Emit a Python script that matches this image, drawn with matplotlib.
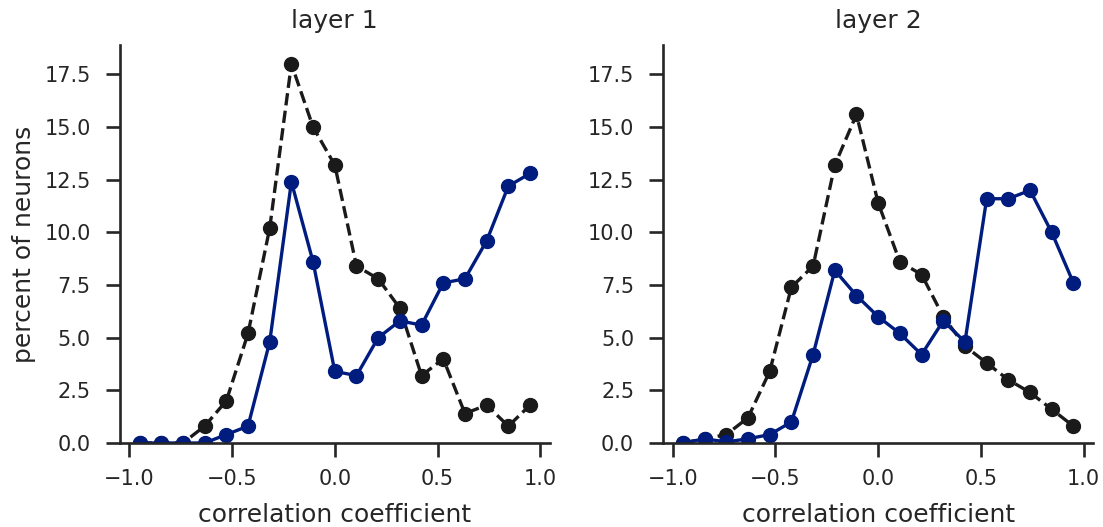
import numpy as np
import matplotlib
matplotlib.use('Agg')
import matplotlib.pyplot as plt
import seaborn as sns

# bin centres of correlation coefficient histogram
bin_centers = np.linspace(-0.95, 0.95, 19)

# layer 1
layer1_black = [0.0, 0.0, 0.0, 0.8, 2.0, 5.2, 10.2, 18.0, 15.0, 13.2,
                8.4, 7.8, 6.4, 3.2, 4.0, 1.4, 1.8, 0.8, 1.8]
layer1_blue = [0.0, 0.0, 0.0, 0.0, 0.4, 0.8, 4.8, 12.4, 8.6, 3.4,
               3.2, 5.0, 5.8, 5.6, 7.6, 7.8, 9.6, 12.2, 12.8]

# layer 2
layer2_black = [0.0, 0.2, 0.4, 1.2, 3.4, 7.4, 8.4, 13.2, 15.6, 11.4,
                8.6, 8.0, 6.0, 4.6, 3.8, 3.0, 2.4, 1.6, 0.8]
layer2_blue = [0.0, 0.2, 0.05, 0.2, 0.4, 1.0, 4.2, 8.2, 7.0, 6.0,
               5.2, 4.2, 5.8, 4.8, 11.6, 11.6, 12.0, 10.0, 7.6]

titles = ['layer 1', 'layer 2']

sns.set_theme(style='ticks', context='talk')
plt.rcParams.update({
    'xtick.labelsize': 15, 'ytick.labelsize': 15,
    'xtick.major.size': 10, 'ytick.major.size': 10,
    'xtick.major.pad': 9, 'ytick.major.pad': 11,
    'xtick.major.width': 1.9, 'ytick.major.width': 1.9,
    'axes.linewidth': 1.9,
    'lines.linewidth': 2.4, 'lines.markersize': 10,
})
BLUE = '#001c7f'

fig, axes = plt.subplots(1, 2, figsize=(11.03, 5.27), dpi=100)
fig.subplots_adjust(left=0.1088, right=0.9909, bottom=0.1594, top=0.9146, wspace=0.265)

all_data = [(layer1_black, layer1_blue), (layer2_black, layer2_blue)]
for idx, ax in enumerate(axes):
    black, blue = all_data[idx]
    ax.plot(bin_centers, black, color='k', linestyle='--', marker='o')
    ax.plot(bin_centers, blue, color=BLUE, linestyle='-', marker='o')
    ax.set_ylim(0, 18.9)
    ax.set_xlim(-1.045, 1.045)
    ax.set_yticks([0, 2.5, 5, 7.5, 10, 12.5, 15, 17.5])
    ax.set_xticks([-1.0, -0.5, 0.0, 0.5, 1.0])
    ax.set_title(titles[idx], pad=12)
    ax.set_xlabel('correlation coefficient', labelpad=10)
    if idx == 0:
        ax.set_ylabel('percent of neurons', labelpad=6)

sns.despine()
plt.savefig('out.png')
